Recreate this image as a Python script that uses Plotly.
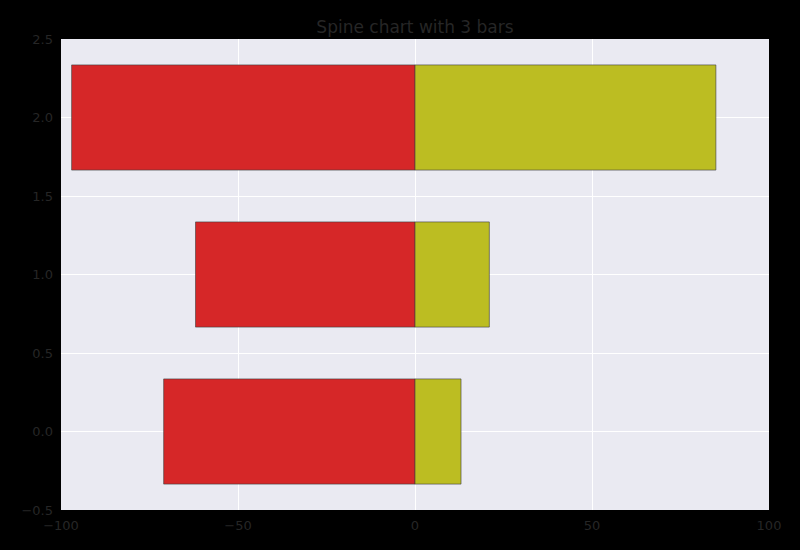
import plotly.graph_objects as go

positions = [0, 1, 2]
left_values = [-71, -62, -97]
right_values = [13, 21, 85]
x_ticks = [-100, -50, 0, 50, 100]
y_ticks = [-0.5, 0.0, 0.5, 1.0, 1.5, 2.0, 2.5]
y_tick_labels = ["\u22120.5", "0.0", "0.5", "1.0", "1.5", "2.0", "2.5"]
x_tick_labels = ["\u2212100", "\u221250", "0", "50", "100"]

fig = go.Figure()
fig.add_trace(go.Bar(y=positions, x=left_values, orientation="h", width=0.67,
                     marker=dict(color="#d62728", line=dict(color="rgba(60,60,60,0.6)", width=1)),
                     showlegend=False))
fig.add_trace(go.Bar(y=positions, x=right_values, orientation="h", width=0.67,
                     marker=dict(color="#bcbd22", line=dict(color="rgba(60,60,60,0.6)", width=1)),
                     showlegend=False))

fig.update_layout(
    width=800, height=550,
    barmode="relative",
    paper_bgcolor="#000000",
    plot_bgcolor="#EAEAF2",
    margin=dict(l=61, r=31, t=39, b=40),
    font=dict(family="DejaVu Sans", size=13, color="#262626"),
    title=dict(text="Spine chart with 3 bars", x=415/800, xanchor="center",
               y=1 - 27/550, yanchor="middle", font=dict(size=17, color="#262626")),
    xaxis=dict(range=[-100, 100], tickvals=x_ticks, ticktext=x_tick_labels,
               showgrid=True, gridcolor="white", gridwidth=1, zeroline=False,
               ticks="", showline=False, tickfont=dict(size=13), ticklabelstandoff=6),
    yaxis=dict(range=[-0.5, 2.5], tickvals=y_ticks, ticktext=y_tick_labels,
               showgrid=True, gridcolor="white", gridwidth=1, zeroline=False,
               ticks="", showline=False, tickfont=dict(size=13), ticklabelstandoff=7),
)
fig.write_html("out.html")
